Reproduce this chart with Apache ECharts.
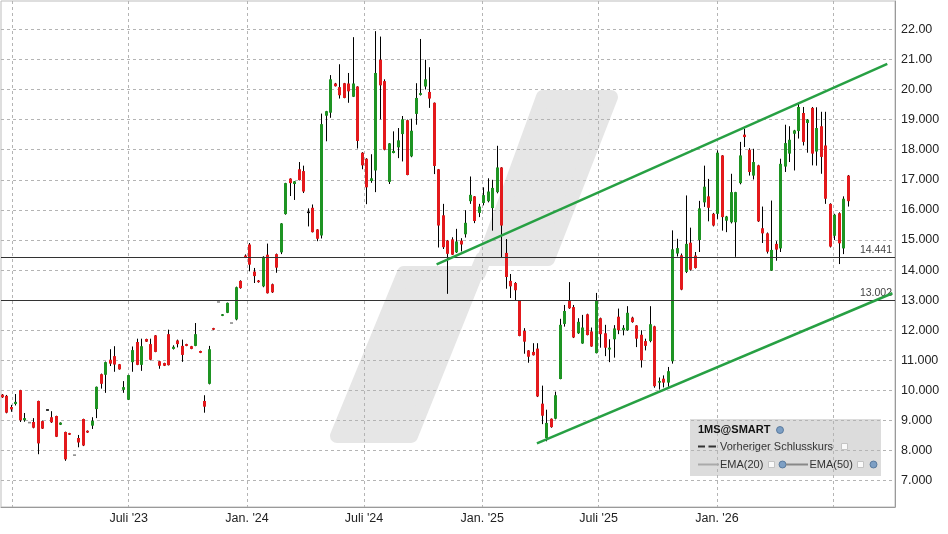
<!DOCTYPE html>
<html>
<head>
<meta charset="utf-8">
<script src="https://cdn.jsdelivr.net/npm/echarts@6/dist/echarts.min.js"></script>
<style>
html,body{margin:0;padding:0;background:#fff;}
#chart{width:948px;height:534px;}
</style>
</head>
<body>
<div id="chart"></div>
<script>
// ---- DATA ----
const firstWeek = '2022-12-16T12:00:00Z';   // date of the first weekly candle
const openP  = [9.86,9.82,9.45,9.55,10.01,9.01,8.93,8.95,9.65,8.98,9.35,9.11,9.15,8.86,8.62,8.58,7.85,8.42,9.05,8.66,8.83,9.38,10.54,10.52,11.02,11.14,10.87,10.02,9.69,10.94,11.61,10.85,11.71,11.54,11.83,10.97,10.91,11.87,11.38,11.66,11.48,11.54,11.47,11.48,11.31,9.65,10.22,12.07,12.94,12.48,12.58,12.24,12.36,13.64,14.48,14.85,13.95,13.65,13.46,14.51,13.53,14.53,14.59,15.86,17.04,16.86,17.35,17.29,15.92,16.07,15.35,15.15,19.13,19.23,20.20,20.08,20.21,20.20,19.76,20.10,17.90,17.70,16.96,17.31,20.99,20.28,16.93,17.89,18.08,18.52,18.98,17.78,19.19,19.82,20.10,19.92,19.56,17.35,15.82,14.98,15.02,14.59,14.98,15.19,16.29,16.45,15.90,16.23,16.29,16.06,16.59,17.41,14.57,13.64,13.57,12.98,11.98,11.33,11.28,11.39,9.56,8.42,9.06,9.06,10.38,12.21,12.97,12.77,11.90,11.56,12.53,11.96,11.24,12.40,11.90,11.36,11.70,12.45,12.00,12.00,12.42,12.16,11.85,11.64,11.64,12.13,10.26,10.39,10.26,10.97,14.55,14.49,13.94,14.91,14.48,15.00,16.25,16.45,15.87,15.87,17.81,15.64,15.59,15.59,16.89,18.50,18.00,17.14,17.48,15.39,15.22,13.98,14.87,14.72,17.44,17.87,18.53,18.62,19.22,18.89,19.39,17.94,18.78,18.14,16.20,15.14,15.89,14.72,17.14];
const highP  = [9.88,9.85,9.52,9.88,10.02,9.25,8.93,9.08,9.66,9.00,9.36,9.31,9.16,8.94,8.63,8.59,7.85,8.52,9.06,8.67,9.11,10.13,10.56,10.96,11.37,11.47,10.88,10.31,10.52,11.46,11.72,11.72,11.72,11.72,11.84,10.98,10.92,12.02,11.50,11.69,11.69,11.55,11.48,12.24,11.32,9.84,11.48,12.08,12.94,12.54,12.92,12.24,13.45,13.66,14.52,14.90,14.07,13.67,14.46,14.88,13.55,14.55,15.56,16.90,17.05,16.96,17.59,17.47,16.05,16.18,15.36,19.20,19.29,20.48,20.22,20.84,20.22,20.55,21.74,20.11,17.92,17.72,17.85,21.94,21.76,20.34,18.22,18.61,18.72,19.12,19.00,19.03,20.21,21.68,20.99,20.74,19.57,17.36,16.20,15.00,15.09,15.37,15.06,15.99,17.11,16.46,16.20,16.75,17.05,17.00,18.13,17.42,15.03,13.87,13.60,12.99,12.07,11.34,11.57,11.57,10.16,9.36,9.07,9.96,12.38,12.84,13.60,12.84,12.40,12.51,12.55,12.09,13.24,12.42,12.18,11.70,12.17,12.72,12.17,12.80,12.45,12.17,12.00,11.72,12.80,12.15,10.43,10.50,10.78,15.32,15.04,14.55,16.48,15.41,14.60,16.30,17.47,17.03,15.90,17.98,17.82,15.80,17.20,16.60,18.26,18.70,18.05,18.03,17.50,16.11,15.25,16.31,14.96,17.70,18.83,18.78,18.66,19.53,19.42,19.02,19.42,19.41,19.26,19.26,16.22,15.87,15.92,16.45,17.16];
const lowP   = [9.75,9.24,9.29,9.50,8.95,8.96,8.93,8.74,7.88,8.72,9.34,8.92,8.45,8.85,7.66,8.52,7.85,8.11,8.15,8.59,8.72,9.08,10.06,9.92,10.81,10.62,10.69,9.92,9.68,10.62,10.84,10.65,11.61,11.00,11.27,10.72,10.81,10.83,11.36,11.43,10.95,11.47,11.37,11.47,11.24,9.26,10.20,12.01,12.94,12.47,12.57,12.24,12.33,13.38,14.40,13.96,13.57,13.58,13.43,13.22,13.24,13.91,14.53,15.84,16.46,16.33,16.98,16.56,15.45,15.25,14.96,15.05,18.28,19.06,20.10,19.70,19.71,19.56,19.75,18.04,17.35,16.19,16.90,16.59,19.01,17.98,16.86,17.88,17.72,17.61,17.15,17.75,18.83,19.80,20.00,19.39,17.19,14.75,14.70,13.21,14.50,14.57,14.62,15.08,16.20,15.56,15.76,16.15,16.25,15.31,16.55,14.43,13.38,13.07,12.98,11.80,11.22,10.92,11.16,9.78,8.88,8.31,8.76,9.04,10.37,12.12,12.71,11.74,11.88,11.55,11.83,11.45,11.23,11.42,11.14,10.94,11.09,11.87,11.83,11.98,12.25,11.44,10.76,11.33,11.60,10.09,10.03,10.10,10.12,10.89,14.45,13.33,13.90,13.98,14.05,14.60,16.10,15.62,15.45,15.70,15.31,15.26,15.55,14.44,16.85,18.09,17.14,17.01,15.60,14.90,14.55,13.97,14.31,14.60,17.26,17.59,17.31,18.37,18.14,17.90,17.48,17.47,17.20,16.20,14.75,15.00,14.20,14.53,16.11];
const closeP = [9.77,9.26,9.37,9.62,9.01,9.08,8.93,8.76,8.24,8.73,9.35,8.94,8.46,8.93,7.71,8.53,7.85,8.27,8.17,8.60,8.99,10.12,10.22,10.94,10.89,10.86,10.70,10.11,10.51,11.34,10.85,11.47,11.62,11.02,11.28,10.82,10.82,10.84,11.45,11.54,11.18,11.48,11.38,11.87,11.25,9.46,11.37,12.02,12.94,12.53,12.91,12.24,13.43,13.40,14.42,14.18,13.80,13.60,14.44,13.23,13.26,14.08,15.55,16.89,16.89,16.95,16.99,16.61,15.92,15.26,15.04,18.85,19.28,20.34,20.11,19.81,19.72,19.94,20.20,18.29,17.48,16.75,17.05,20.55,20.14,18.00,18.21,17.96,18.31,19.01,17.16,18.63,19.72,19.88,20.34,19.70,17.46,15.48,14.76,14.54,14.51,14.95,14.85,15.57,16.50,15.63,16.11,16.49,16.61,16.73,17.41,15.48,13.77,13.46,13.33,11.81,11.62,11.12,11.17,9.80,9.16,8.92,8.78,9.84,12.18,12.64,12.73,11.76,12.28,12.09,11.84,11.46,12.98,11.87,11.42,11.42,12.06,12.00,12.08,12.58,12.27,11.72,11.00,11.48,12.20,10.14,10.31,10.26,10.64,14.69,14.73,13.35,14.87,14.01,14.07,16.05,16.77,16.07,15.48,17.90,15.76,15.78,16.59,16.59,17.81,18.42,17.26,17.59,15.62,15.22,14.61,14.67,14.68,17.53,18.22,18.33,18.64,19.42,18.26,19.00,17.87,18.72,17.76,16.37,14.78,15.84,14.89,16.37,16.29];

const refLevels = [14.441, 13.002];                  // horizontal reference lines
const upperTrend = [['2024-10-22', 14.19], ['2026-09-23', 20.85]];
const lowerTrend = [['2025-03-27', 8.24], ['2026-10-01', 13.23]];

const xTickDates  = ['2023-01-01','2023-07-01','2024-01-01','2024-07-01','2025-01-01','2025-07-01','2026-01-01','2026-07-01'];
const xLabelDates = ['2023-07-01','2024-01-01','2024-07-01','2025-01-01','2025-07-01','2026-01-01'];
const xLabelTexts = ["Juli '23","Jan. '24","Juli '24","Jan. '25","Juli '25","Jan. '26"];
const yTicks = [7,8,9,10,11,12,13,14,15,16,17,18,19,20,21,22];

// ---- BUILD ----
const DAY = 86400000;
const t0 = Date.parse(firstWeek);
const candles = openP.map((o, i) => [t0 + i * 7 * DAY, o, closeP[i], lowP[i], highP[i]]);
const toT = d => Date.parse(d + 'T00:00:00Z');
const xTickValues = xTickDates.map(toT);
const xLabelValues = xLabelDates.map(toT);
const labelMap = {};
xLabelValues.forEach((v, i) => { labelMap[v] = xLabelTexts[i]; });

const xMin = Date.parse('2022-12-14T09:30:00Z');
const xMax = Date.parse('2026-10-05T00:00:00Z');

const UP = '#1e9423', DOWN = '#e3191c', DOJI = '#111111', FLAT = '#8c8c8c';
const FONT = "'Liberation Sans', Arial, sans-serif";

function renderCandle(params, api) {
  const t = api.value(0), o = api.value(1), c = api.value(2), l = api.value(3), h = api.value(4);
  const pO = api.coord([t, o]), pC = api.coord([t, c]);
  const pL = api.coord([t, l]), pH = api.coord([t, h]);
  const cx = Math.floor(pO[0]) + 0.5;
  let color = c > o ? UP : (c < o ? DOWN : (h > l ? DOJI : FLAT));
  let top = Math.min(pO[1], pC[1]);
  let hgt = Math.abs(pO[1] - pC[1]);
  if (hgt < 1.6) { top = top - (1.6 - hgt) / 2; hgt = 1.6; }
  const children = [];
  if (h > l) {
    children.push({type: 'line', shape: {x1: cx, y1: pH[1], x2: cx, y2: pL[1]},
      style: {stroke: '#000', lineWidth: 1}});
  }
  children.push({type: 'rect', shape: {x: cx - 1.5, y: top, width: 3, height: hgt},
    style: {fill: color}});
  return {type: 'group', children: children};
}

const trendStyle = {color: '#27a043', width: 2.5};
const wm = '#e6e6e6';

const option = {
  animation: false,
  backgroundColor: '#ffffff',
  textStyle: {fontFamily: FONT},
  grid: {left: 1, top: 1, right: 53, bottom: 27, show: true, borderColor: '#bdbdbd', borderWidth: 1, containLabel: false},
  xAxis: {
    type: 'value', min: xMin, max: xMax,
    axisLine: {show: true, lineStyle: {color: '#9a9a9a'}},
    axisTick: {show: false, customValues: xTickValues},
    axisLabel: {customValues: xLabelValues, formatter: v => labelMap[v] || '', margin: 5,
      fontSize: 12.5, color: '#222', fontFamily: FONT},
    splitLine: {show: true, lineStyle: {color: '#b4b4b4', type: [3, 3], width: 1}}
  },
  yAxis: {
    type: 'value', position: 'right', min: 6.126, max: 22.942, scale: true,
    axisLine: {show: true, lineStyle: {color: '#9a9a9a'}},
    axisTick: {show: false, customValues: yTicks},
    axisLabel: {customValues: yTicks, margin: 6, fontSize: 12.5, color: '#222', fontFamily: FONT,
      formatter: v => v >= 20 ? v.toFixed(2) : v.toFixed(3)},
    splitLine: {show: true, lineStyle: {color: '#b4b4b4', type: [3, 3], width: 1}}
  },
  graphic: [
    // watermark
    {type: 'polygon', z: -20, silent: true,
      shape: {points: [[543,97],[611,97],[548,259],[482,259],[411,436],[337,436],[404,273],[479,273]]},
      style: {fill: wm, stroke: wm, lineWidth: 14, lineJoin: 'round'}},
    // legend box
    {type: 'rect', z: -10, silent: true, shape: {x: 690, y: 419, width: 191, height: 57},
      style: {fill: '#dcdcdc'}},
    {type: 'text', z: 50, x: 698, y: 430, style: {text: '1MS@SMART', font: "bold 11px 'Liberation Sans', Arial", fill: '#111', verticalAlign: 'middle'}},
    {type: 'circle', z: 50, shape: {cx: 780, cy: 430, r: 3.5}, style: {fill: '#7d9fc4', stroke: '#4b6d93', lineWidth: 0.8}},
    {type: 'line', z: 50, shape: {x1: 698, y1: 446.5, x2: 705, y2: 446.5}, style: {stroke: '#333', lineWidth: 2}},
    {type: 'line', z: 50, shape: {x1: 708.5, y1: 446.5, x2: 716, y2: 446.5}, style: {stroke: '#333', lineWidth: 2}},
    {type: 'text', z: 50, x: 720, y: 446.5, style: {text: 'Vorheriger Schlusskurs', font: "11px 'Liberation Sans', Arial", fill: '#333', verticalAlign: 'middle'}},
    {type: 'rect', z: 50, shape: {x: 841.5, y: 443.5, width: 6, height: 6}, style: {fill: '#fafafa', stroke: '#c4c4c4', lineWidth: 1}},
    {type: 'line', z: 50, shape: {x1: 698, y1: 464.5, x2: 719, y2: 464.5}, style: {stroke: '#aaaaaa', lineWidth: 2}},
    {type: 'text', z: 50, x: 720, y: 464.5, style: {text: 'EMA(20)', font: "11px 'Liberation Sans', Arial", fill: '#333', verticalAlign: 'middle'}},
    {type: 'rect', z: 50, shape: {x: 768.5, y: 461.5, width: 6, height: 6}, style: {fill: '#fafafa', stroke: '#c4c4c4', lineWidth: 1}},
    {type: 'circle', z: 50, shape: {cx: 782.5, cy: 464.5, r: 3.5}, style: {fill: '#7d9fc4', stroke: '#4b6d93', lineWidth: 0.8}},
    {type: 'line', z: 50, shape: {x1: 786, y1: 464.5, x2: 808, y2: 464.5}, style: {stroke: '#888888', lineWidth: 2}},
    {type: 'text', z: 50, x: 809.5, y: 464.5, style: {text: 'EMA(50)', font: "11px 'Liberation Sans', Arial", fill: '#333', verticalAlign: 'middle'}},
    {type: 'rect', z: 50, shape: {x: 857.5, y: 461.5, width: 6, height: 6}, style: {fill: '#fafafa', stroke: '#c4c4c4', lineWidth: 1}},
    {type: 'circle', z: 50, shape: {cx: 873.5, cy: 464.5, r: 3.5}, style: {fill: '#7d9fc4', stroke: '#4b6d93', lineWidth: 0.8}}
  ],
  series: [
    {
      type: 'custom', name: '1MS@SMART', renderItem: renderCandle, clip: true,
      encode: {x: 0, y: [1, 2, 3, 4]}, data: candles, z: 3,
      markLine: {
        silent: true, symbol: 'none', animation: false, precision: 3,
        lineStyle: {color: '#333', width: 1, type: 'solid'},
        label: {show: true, position: 'insideEndTop', distance: [3, 1], fontSize: 10.5, color: '#444', fontFamily: FONT,
          formatter: p => refLevels[p.dataIndex].toFixed(3)},
        emphasis: {disabled: true},
        data: refLevels.map(v => ({yAxis: v}))
      }
    },
    {type: 'line', data: upperTrend.map(p => [toT(p[0]), p[1]]), symbol: 'none', lineStyle: trendStyle, z: 5, silent: true},
    {type: 'line', data: lowerTrend.map(p => [toT(p[0]), p[1]]), symbol: 'none', lineStyle: trendStyle, z: 5, silent: true}
  ]
};

const chart = echarts.init(document.getElementById('chart'), null, {renderer: 'canvas'});
chart.setOption(option);
</script>
</body>
</html>
